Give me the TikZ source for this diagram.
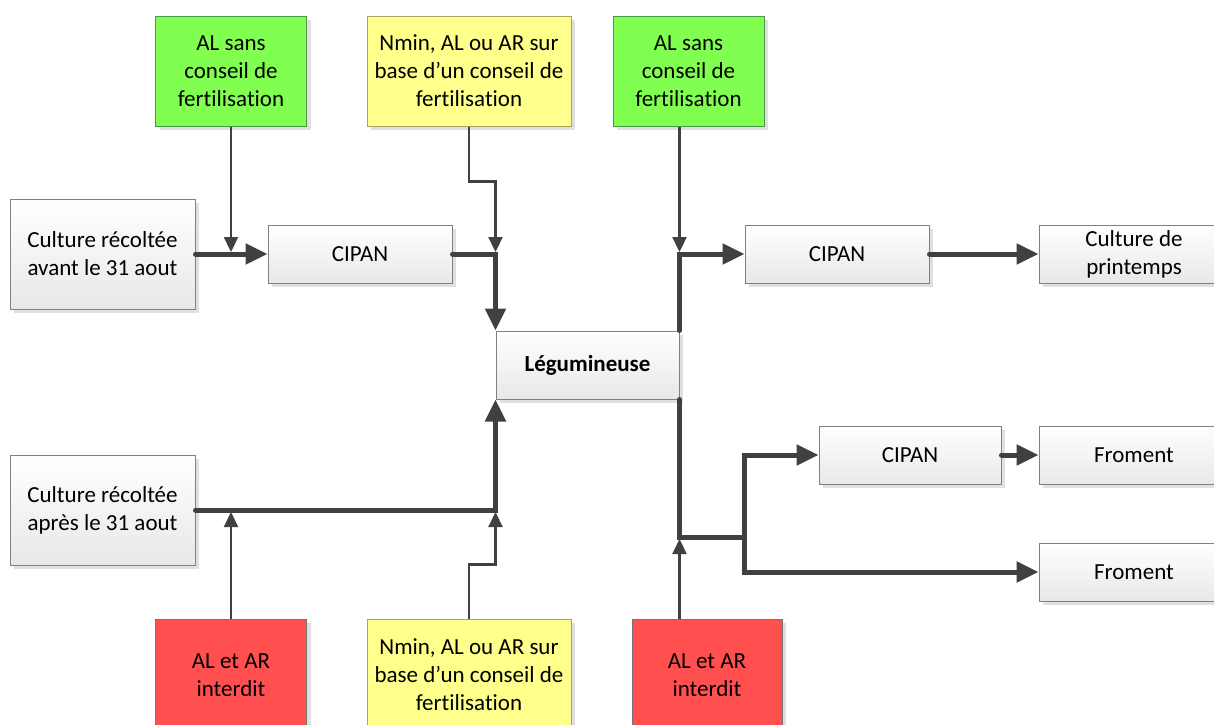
\documentclass[tikz,border=0pt]{standalone}
\usepackage{fontspec}
\setmainfont{Carlito}[Ligatures=NoCommon]
\usepackage{xcolor}
\usepackage{tikz}
\usetikzlibrary{arrows.meta}
\usetikzlibrary{shadows}
\definecolor{linegray}{HTML}{404040}
\definecolor{boxgreen}{HTML}{80FF50}
\definecolor{boxyellow}{HTML}{FFFF8C}
\definecolor{boxred}{HTML}{FF4F4F}
\tikzset{
box/.style={
  rectangle,
  draw=black!50,
  line width=1pt,
  inner sep=0pt,
  align=center,
  font=\fontsize{23}{28}\selectfont,
  drop shadow={shadow xshift=4pt,shadow yshift=-4pt,fill=black!12,opacity=1}
},
plain/.style={box,top color=white,bottom color=black!9},
green/.style={box,fill=boxgreen,draw=green!40!black!70},
yellow/.style={box,fill=boxyellow,draw=olive!70!black!60},
red/.style={box,fill=boxred,draw=black!55},
big/.style={minimum width=185pt,minimum height=110pt},
small/.style={minimum width=184pt,minimum height=58pt},
tall/.style={minimum width=151pt,minimum height=110pt},
wide/.style={minimum width=204pt,minimum height=110pt},
flow/.style={linegray,line width=5pt,line cap=round,-{Triangle[length=22pt,width=20pt]}},
feed/.style={linegray,line width=2.2pt,-{Triangle[length=15pt,width=14pt]},shorten >=2pt},
}

\begin{document}
\begin{tikzpicture}[x=1pt,y=-1pt]
\clip[use as bounding box] (0,0) rectangle (1214,724);
% the boxes
\node[green,tall]  (fert1)    at (231,71)    {AL sans\\conseil de\\fertilisation};
\node[yellow,wide] (conseil1) at (469,71)    {Nmin, AL ou AR sur\\base d’un conseil de\\fertilisation};
\node[green,tall]  (fert2)    at (688.5,71)  {AL sans\\conseil de\\fertilisation};
\node[plain,big]   (avant)    at (102.5,254) {Culture récoltée\\avant le 31 aout};
\node[plain,small] (cipan1)   at (360,254)   {CIPAN};
\node[plain,small] (cipan2)   at (837,254)   {CIPAN};
\node[plain,small,minimum width=190pt] (printemps) at (1134,254) {Culture de\\printemps};
\node[plain,minimum width=183pt,minimum height=68pt,font=\fontsize{23}{28}\selectfont\bfseries]
                   (leg)      at (587.5,365) {Légumineuse};
\node[plain,big]   (apres)    at (102.5,510) {Culture récoltée\\après le 31 aout};
\node[plain,small,minimum width=182pt] (cipan3) at (910,455) {CIPAN};
\node[plain,small,minimum width=190pt] (froment1) at (1134,455) {Froment};
\node[plain,small,minimum width=190pt] (froment2) at (1134,572) {Froment};
\node[red,tall,minimum height=112pt]   (interdit1) at (231,675)  {AL et AR\\interdit};
\node[yellow,wide,minimum height=112pt](conseil2)  at (469,675)  {Nmin, AL ou AR sur\\base d’un conseil de\\fertilisation};
\node[red,minimum width=150pt,minimum height=112pt] (interdit2) at (707,675) {AL et AR\\interdit};
\coordinate (fork) at (744,537);
% the thick arrows
\draw[flow] (avant) -- (cipan1);
\draw[flow] (cipan1.east) -| (leg.north west);
\draw[flow] (leg.north east) |- (cipan2.west);
\draw[flow] (cipan2) -- (printemps);
\draw[flow] (apres.east) -| (leg.south west);
\draw[flow,-] (leg.south east) |- (fork);
\draw[flow] (fork) |- (cipan3.west);
\draw[flow] (fork) |- (froment2.west);
\draw[flow] (cipan3) -- (froment1);
% the thin arrows
\draw[feed] (fert1) -- (fert1 |- avant.east);
\draw[feed] (conseil1.south) -- ++(0,55) -| (leg.west |- cipan1.east);
\draw[feed] (leg.east |- fert2.south) -- (leg.east |- cipan2.west);
\draw[feed] (interdit1) -- (interdit1 |- apres.east);
\draw[feed] (conseil2.north) -- ++(0,-54) -| (leg.west |- apres.east);
\draw[feed] (leg.east |- interdit2.north) -- (leg.east |- fork);
\end{tikzpicture}
\end{document}
